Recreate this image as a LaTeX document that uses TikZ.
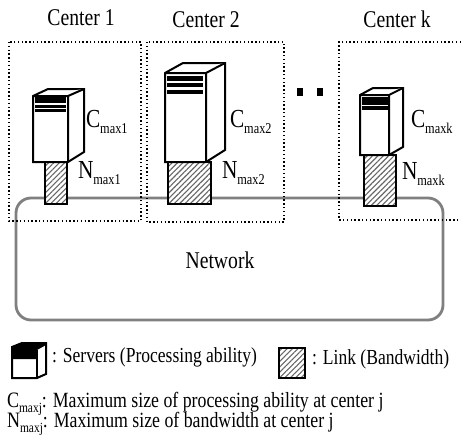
\documentclass[tikz,border=0pt]{standalone}
\usepackage{fontspec}
\setmainfont[FakeStretch=0.82]{Liberation Serif}
\usetikzlibrary{patterns.meta}
\newcommand{\capsub}[2]{{\fontsize{26}{26}\selectfont #1}\raisebox{-6pt}{\fontsize{15}{15}\selectfont #2}}
\newcommand{\legsub}[2]{{\fontsize{22}{22}\selectfont #1}\raisebox{-5pt}{\fontsize{14}{14}\selectfont #2}}
\tikzset{
  x=1pt,y=-1pt,
  body/.style={draw=black,line width=2pt,fill=white,line join=miter},
  hatched/.style={draw=black,line width=2pt,preaction={fill=white},pattern={Lines[angle=45,distance=3.8pt,line width=1.1pt]},pattern color=black!60},
  dotbox/.style={draw=black,line width=1.4pt,dash pattern=on 1.4pt off 2.4pt},
  lab/.style={anchor=base west,inner sep=0pt,outer sep=0pt},
  title/.style={anchor=base,inner sep=0pt,font=\fontsize{24}{24}\selectfont},
  txt/.style={anchor=base west,inner sep=0pt,font=\fontsize{21.4}{21.4}\selectfont},
  netbox/.style={draw=black!50,line width=2.8pt,rounded corners=15pt}
}
\begin{document}
\begin{tikzpicture}
\useasboundingbox (0,0) rectangle (461,437);
% network
\draw[netbox] (16,198) rectangle (443,320);
\node[anchor=center,inner sep=0pt,font=\fontsize{24}{24}\selectfont] (net) at (220,260) {Network};
% center boxes
\draw[dotbox] (9,42) rectangle (141,221);
\draw[dotbox] (147,42) rectangle (284,222);
\draw[dotbox] (461,42) -- (339,42) -- (339,220) -- (461,220);
% titles
\node[title] (c1) at (81,25) {Center 1};
\node[title] (c2) at (206,27) {Center 2};
\node[title] (ck) at (397,27) {Center k};
% link bars
\path[hatched] (45,162) rectangle (67,204);
\path[hatched] (168,162) rectangle (211,204);
\path[hatched] (364,155) rectangle (396,206);
% server 1
\draw[body] (33,96) -- (48,89) -- (84,89) -- (84,152) -- (68,162) -- (33,162) -- cycle;
\draw[body] (33,96) -- (68,96) -- (84,89) (68,96) -- (68,162);
\fill (35,97) rectangle (66,103);
\fill (35,104.5) rectangle (66,107.5);
\fill (35,108.5) rectangle (66,111.5);
% server 2
\draw[body] (165,73) -- (183,63) -- (225,63) -- (225,150) -- (206,162) -- (165,162) -- cycle;
\draw[body] (165,73) -- (206,73) -- (225,63) (206,73) -- (206,162);
\fill (167,76) rectangle (203,81);
\fill (167,83) rectangle (203,87);
\fill (167,90) rectangle (203,94);
% server k
\draw[body] (360,95) -- (373,88) -- (403,88) -- (403,147) -- (389,155) -- (360,155) -- cycle;
\draw[body] (360,95) -- (389,95) -- (403,88) (389,95) -- (389,155);
\fill (362,97) rectangle (388,105);
\fill (362,106) rectangle (388,109.5);
% dots
\fill (297,88) rectangle (303,96);
\fill (317,88) rectangle (323,96);
% labels
\node[lab] (cm1) at (86,127) {\capsub{C}{max1}};
\node[lab] (nm1) at (78,178) {\capsub{N}{max1}};
\node[lab] (cm2) at (230,127) {\capsub{C}{max2}};
\node[lab] (nm2) at (222,178) {\capsub{N}{max2}};
\node[lab] (cmk) at (411,127) {\capsub{C}{maxk}};
\node[lab] (nmk) at (402,179) {\capsub{N}{maxk}};
% legend
\draw[body] (12,347) -- (22,343) -- (46,343) -- (46,374) -- (37,378) -- (12,378) -- cycle;
\fill (12,347) -- (22,343) -- (46,343) -- (46,345) -- (37,350) -- (37,359) -- (12,359) -- cycle;
\draw[line width=2pt] (37,350) -- (37,378);
\path[hatched] (279,348) rectangle (305,378);
\node[txt] (lg1) at (52,362) {: Servers (Processing ability)};
\node[txt] (lg2) at (312,364) {: Link (Bandwidth)};
\node[lab] (d1) at (7,407) {\legsub{C}{maxj}{\fontsize{21.7}{21.7}\selectfont: Maximum size of processing ability at center j}};
\node[lab] (d2) at (7,427) {\legsub{N}{maxj}{\fontsize{21.7}{21.7}\selectfont: Maximum size of bandwidth at center j}};
\end{tikzpicture}
\end{document}
